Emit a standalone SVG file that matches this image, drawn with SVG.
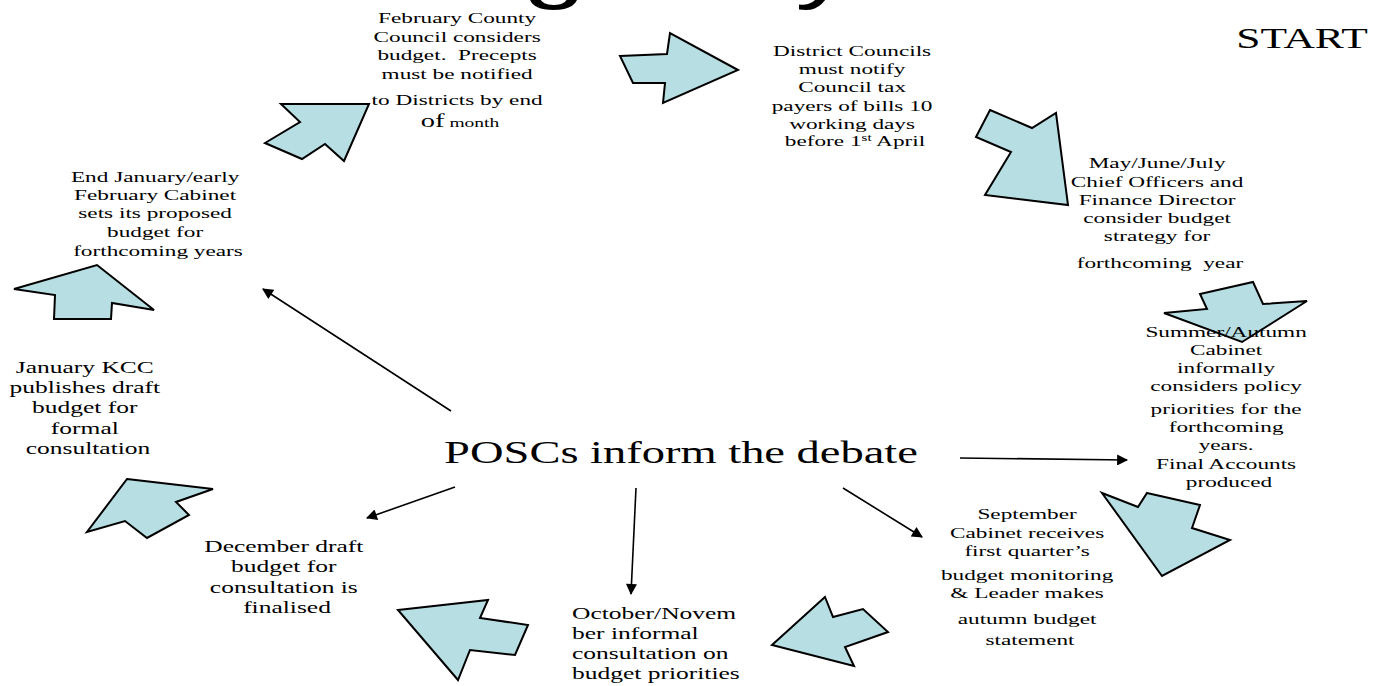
<svg xmlns="http://www.w3.org/2000/svg" width="1399" height="686" viewBox="0 0 1399 686">
<style>
.t{font-family:"Liberation Serif","Times New Roman",serif;font-size:15.5px;fill:#000}
.t17{font-family:"Liberation Serif","Times New Roman",serif;font-size:17px;fill:#000}
.big{font-family:"Liberation Serif","Times New Roman",serif;font-size:31px;fill:#000}
.st{font-family:"Liberation Serif","Times New Roman",serif;font-size:29px;fill:#000}
.title{font-family:"Liberation Sans",Arial,sans-serif;font-size:76px;fill:#000}
.blk{fill:#b7dee2;stroke:#000;stroke-width:2;stroke-linejoin:miter}
.con{stroke:#000;stroke-width:1.6;fill:none}
</style>
<defs>
<marker id="ahL" viewBox="0 0 10 10" refX="9" refY="5" markerWidth="13" markerHeight="11" markerUnits="userSpaceOnUse" orient="auto">
<path d="M0,0 L10,5 L0,10 z" fill="#000"/>
</marker>
</defs>
<rect width="1399" height="686" fill="#fff"/>

<g id="title" transform="translate(320,-6) scale(1.5,1)">
<text class="title" x="0" y="0">Budget Cycle</text>
</g>

<g id="start" transform="translate(1302,48) scale(1.5,1)">
<text class="st" x="0" y="0" text-anchor="middle">START</text>
</g>

<g id="cycle-arrows">
<polygon id="a-jan-end" class="blk" points="14,289 97,265 154,310 112,303 111,319 54,319 55,295"/>
<polygon id="a-end-feb" class="blk" points="281,104 369,104 344,161 325,144 302,159 265,143 300,122"/>
<polygon id="a-feb-dist" class="blk" points="620,56 667,54 670,33 738,70 663,103 665,83 633,83"/>
<polygon id="a-dist-may" class="blk" points="990,110 1032,128 1056,113 1068,205 985,195 1011,152 976,137"/>
<polygon id="a-may-sum" class="blk" points="1200,294 1253,282 1263,304 1307,301 1242,342 1164,313 1207,309"/>
<polygon id="a-sum-sep" class="blk" points="1147,493 1200,505 1192,528 1230,540 1162,576 1102,493 1138,507"/>
<polygon id="a-sep-oct" class="blk" points="825,597 833,617 863,609 888,632 845,647 854,666 772,645"/>
<polygon id="a-oct-dec" class="blk" points="398,610 488,600 480,618 528,625 515,655 470,650 458,680"/>
<polygon id="a-dec-jan" class="blk" points="127,479 213,489 176,502 189,515 147,538 125,521 87,532"/>
</g>

<g id="connectors">
<line class="con" x1="451" y1="411" x2="263" y2="289" marker-end="url(#ahL)"/>
<line class="con" x1="455" y1="487" x2="367" y2="518" marker-end="url(#ahL)"/>
<line class="con" x1="636" y1="488" x2="631" y2="594" marker-end="url(#ahL)"/>
<line class="con" x1="843" y1="488" x2="922" y2="537" marker-end="url(#ahL)"/>
<line class="con" x1="960" y1="458" x2="1127" y2="460" marker-end="url(#ahL)"/>
</g>

<g id="n-posc" transform="translate(681,463) scale(1.5,1)">
<text class="big" x="0" y="0" text-anchor="middle">POSCs inform the debate</text>
</g>

<g id="n-feb" transform="translate(460,0) scale(1.5,1)">
<text class="t" text-anchor="middle">
<tspan x="0" y="23">February County</tspan>
<tspan x="0" y="42">Council considers</tspan>
<tspan x="0" y="60">budget.&#160; Precepts</tspan>
<tspan x="0" y="79">must be notified</tspan>
<tspan x="0" y="105">to Districts by end</tspan>
<tspan x="0" y="127"><tspan font-size="19">of</tspan><tspan font-size="13"> month</tspan></tspan>
</text>
</g>

<g id="n-dist" transform="translate(855,0) scale(1.5,1)">
<text class="t" text-anchor="middle">
<tspan x="0" y="56">District Councils</tspan>
<tspan x="0" y="74">must notify</tspan>
<tspan x="0" y="92">Council tax</tspan>
<tspan x="0" y="111">payers of bills 10</tspan>
<tspan x="0" y="129">working days</tspan>
<tspan x="0" y="146">before 1<tspan font-size="10" dy="-5">st</tspan><tspan dy="5"> April</tspan></tspan>
</text>
</g>

<g id="n-may" transform="translate(1160,0) scale(1.5,1)">
<text class="t" text-anchor="middle">
<tspan x="0" y="168">May/June/July</tspan>
<tspan x="0" y="187">Chief Officers and</tspan>
<tspan x="0" y="205">Finance Director</tspan>
<tspan x="0" y="223">consider budget</tspan>
<tspan x="0" y="241">strategy for</tspan>
<tspan x="0" y="268">forthcoming&#160; year</tspan>
</text>
</g>

<g id="n-summer" transform="translate(1229,0) scale(1.5,1)">
<text class="t" text-anchor="middle">
<tspan x="0" y="337">Summer/Autumn</tspan>
<tspan x="0" y="355">Cabinet</tspan>
<tspan x="0" y="373">informally</tspan>
<tspan x="0" y="391">considers policy</tspan>
<tspan x="0" y="414">priorities for the</tspan>
<tspan x="0" y="432">forthcoming</tspan>
<tspan x="0" y="450">years.</tspan>
<tspan x="0" y="469">Final Accounts</tspan>
<tspan x="0" y="487">produced</tspan>
</text>
</g>

<g id="n-sep" transform="translate(1030,0) scale(1.5,1)">
<text class="t" text-anchor="middle">
<tspan x="0" y="519">September</tspan>
<tspan x="0" y="538">Cabinet receives</tspan>
<tspan x="0" y="556">first quarter’s</tspan>
<tspan x="0" y="580">budget monitoring</tspan>
<tspan x="0" y="598">&amp; Leader makes</tspan>
<tspan x="0" y="624">autumn budget</tspan>
<tspan x="0" y="645">statement</tspan>
</text>
</g>

<g id="n-oct" transform="translate(572,0) scale(1.5,1)">
<text class="t17" text-anchor="start">
<tspan x="0" y="619">October/Novem</tspan>
<tspan x="0" y="639">ber informal</tspan>
<tspan x="0" y="659">consultation on</tspan>
<tspan x="0" y="679">budget priorities</tspan>
</text>
</g>

<g id="n-dec" transform="translate(287,0) scale(1.5,1)">
<text class="t17" text-anchor="middle">
<tspan x="0" y="552">December draft</tspan>
<tspan x="0" y="572">budget for</tspan>
<tspan x="0" y="593">consultation is</tspan>
<tspan x="0" y="613">finalised</tspan>
</text>
</g>

<g id="n-jan" transform="translate(88,0) scale(1.5,1)">
<text class="t17" text-anchor="middle">
<tspan x="0" y="373">January KCC</tspan>
<tspan x="0" y="393">publishes draft</tspan>
<tspan x="0" y="413">budget for</tspan>
<tspan x="0" y="434">formal</tspan>
<tspan x="0" y="454">consultation</tspan>
</text>
</g>

<g id="n-endjan" transform="translate(158,0) scale(1.5,1)">
<text class="t" text-anchor="middle">
<tspan x="0" y="182">End January/early</tspan>
<tspan x="0" y="200">February Cabinet</tspan>
<tspan x="0" y="218">sets its proposed</tspan>
<tspan x="0" y="237">budget for</tspan>
<tspan x="0" y="256">forthcoming years</tspan>
</text>
</g>
</svg>
